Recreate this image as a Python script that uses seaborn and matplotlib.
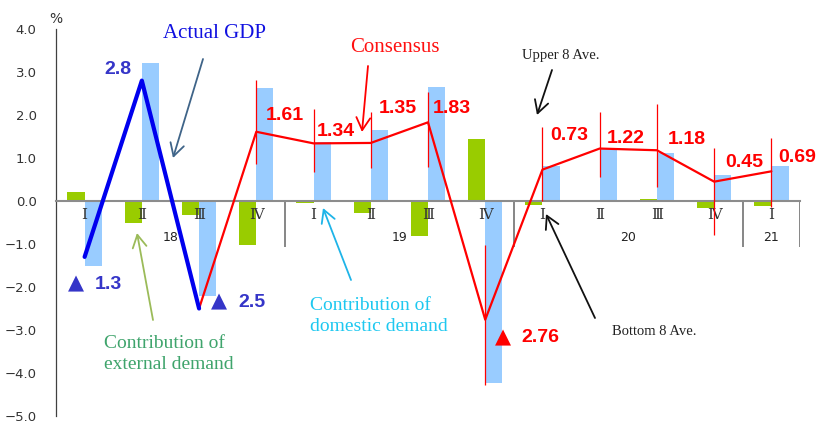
import numpy as np
import pandas as pd
import matplotlib
matplotlib.use("Agg")
import matplotlib.pyplot as plt
import seaborn as sns

# ---------------- data ----------------
quarters = ["18Q1", "18Q2", "18Q3", "18Q4", "19Q1", "19Q2", "19Q3", "19Q4",
            "20Q1", "20Q2", "20Q3", "20Q4", "21Q1"]
roman = ["Ⅰ", "Ⅱ", "Ⅲ", "Ⅳ", "Ⅰ", "Ⅱ", "Ⅲ", "Ⅳ", "Ⅰ", "Ⅱ", "Ⅲ", "Ⅳ", "Ⅰ"]
years = ["18", "19", "20", "21"]
year_centers = [1.5, 5.5, 9.5, 12.0]
year_bounds = [3.5, 7.5, 11.5, 12.5]

external = [0.20, -0.52, -0.32, -1.03, -0.05, -0.29, -0.81, 1.44,
            -0.10, -0.03, 0.05, -0.16, -0.12]
domestic = [-1.50, 3.20, -2.20, 2.63, 1.37, 1.65, 2.65, -4.23,
            0.81, 1.23, 1.12, 0.60, 0.81]

actual_gdp = [-1.3, 2.8, -2.5]                       # 18Q1..18Q3
consensus = [1.61, 1.34, 1.35, 1.83, -2.76, 0.73, 1.22, 1.18, 0.45, 0.69]  # 18Q4..21Q1
upper8 = [2.81, 2.14, 2.07, 2.53, -1.02, 1.72, 2.07, 2.26, 1.23, 1.47]
bottom8 = [0.86, 0.67, 0.77, 0.79, -4.28, 0.00, 0.56, 0.33, -0.79, -0.14]

y_ticks = [4, 3, 2, 1, 0, -1, -2, -3, -4, -5]

# ---------------- figure ----------------
sns.set_style("white")
W, H = 820, 423
fig = plt.figure(figsize=(W / 100, H / 100), dpi=100)
ax = fig.add_axes([56 / W, 1 - 416 / H, 744 / W, 387 / H])

def fp(x, y):
    return (x / W, 1 - y / H)

df = pd.DataFrame({
    "quarter": quarters * 2,
    "value": external + domestic,
    "series": ["external"] * len(quarters) + ["domestic"] * len(quarters),
})
sns.barplot(data=df, x="quarter", y="value", hue="series",
            hue_order=["external", "domestic"],
            palette={"external": "#99CC00", "domestic": "#99CCFF"},
            saturation=1, width=0.6, dodge=True, errorbar=None,
            linewidth=0, legend=False, ax=ax, zorder=2)

n_act = len(actual_gdp)
idx_act = list(range(n_act))
idx_cons = list(range(n_act, n_act + len(consensus)))

# high/low range (upper 8 / bottom 8 averages)
ax.vlines(idx_cons, bottom8, upper8, color="#FF0000", lw=0.9, zorder=5)

# consensus line (starting from last actual)
sns.lineplot(x=[idx_act[-1]] + idx_cons, y=[actual_gdp[-1]] + consensus,
             color="#FF0000", lw=1.6, sort=False, estimator=None, ax=ax, zorder=6)
# actual GDP
sns.lineplot(x=idx_act, y=actual_gdp, color="#0000EE", lw=3.0,
             sort=False, estimator=None, ax=ax, zorder=7)

ax.set_xlim(-0.5, len(quarters) - 0.5)
ax.set_ylim(-5, 4)
ax.set_xlabel("")
ax.set_ylabel("")

# axes styling
for s in ["top", "right"]:
    ax.spines[s].set_visible(False)
ax.spines["left"].set_color("#404040")
ax.spines["left"].set_linewidth(0.9)
ax.spines["bottom"].set_position(("data", 0))
ax.spines["bottom"].set_color("#8C8C8C")
ax.spines["bottom"].set_linewidth(1.5)
ax.spines["bottom"].set_zorder(3)

ax.set_yticks(y_ticks)
ax.set_yticklabels([f"{t:.1f}".replace("-", "\u2212") for t in y_ticks])
ax.tick_params(axis="y", direction="in", length=4, width=0.9, color="#404040",
               labelsize=9.5, labelcolor="#333333", pad=14)
ax.set_xticks(range(len(quarters)))
ax.set_xticklabels([])
ax.tick_params(axis="x", length=0)

# quarter labels drawn on top of the bars
for i, r in enumerate(roman):
    ax.text(i, -0.33, r, ha="center", va="center", fontsize=11,
            family=["DejaVu Serif", "Noto Sans CJK JP"], color="#333333", zorder=4)

# year group separators and labels
ax.vlines(year_bounds, -1.07, 0, color="#666666", lw=1.1, zorder=3)
for yl, xc in zip(years, year_centers):
    ax.text(xc, -0.86, yl, ha="center", va="center", fontsize=9, color="#222222", zorder=4)

fig.text(*fp(56, 19), "%", ha="center", va="center", fontsize=10, color="#333333")

# ---------------- value labels ----------------
num_font = ["Liberation Sans", "DejaVu Sans"]

def vlabel(i, v, nd, dx, dy, color):
    """dx, dy: pixel offset of the label's left edge / vertical centre."""
    kw = dict(textcoords="offset points", va="center", color=color,
              fontweight="bold", zorder=8)
    if v < 0:
        ax.annotate("▲", (i, v), xytext=(dx * 0.72, (dy + 1) * 0.72), ha="left",
                    fontsize=15, family=["DejaVu Sans"], **kw)
        ax.annotate(f"{abs(v):.{nd}f}", (i, v), xytext=((dx + 27) * 0.72, dy * 0.72),
                    ha="left", fontsize=14, family=num_font, **kw)
    else:
        ax.annotate(f"{v:.{nd}f}", (i, v), xytext=(dx * 0.72, dy * 0.72),
                    ha="left", fontsize=14, family=num_font, **kw)

blue_lab = "#3535C8"
act_offsets = [(-16.6, -28), (-37, 10.6), (12, 6.5)]
for i, v, (dx, dy) in zip(idx_act, actual_gdp, act_offsets):
    vlabel(i, v, 1, dx, dy, blue_lab)

cons_offsets = [(9, 16), (3, 12), (8, 34.5), (5, 14), (9.6, -18.3),
                (7.5, 34.6), (7, 10.5), (11, 11), (10.6, 18.7), (6.4, 14)]
for i, v, (dx, dy) in zip(idx_cons, consensus, cons_offsets):
    vlabel(i, v, 2, dx, dy, "#FF0000")

# ---------------- annotations ----------------
serif = "Liberation Serif"
fig.text(*fp(215, 33), "Actual GDP", color="#1010E0", fontsize=15,
         family=serif, ha="center", va="center")
fig.text(*fp(395, 47), "Consensus", color="#FF1010", fontsize=15,
         family=serif, ha="center", va="center")
fig.text(*fp(561, 56), "Upper 8 Ave.", color="#222222", fontsize=10.5,
         family=serif, ha="center", va="center")
fig.text(*fp(654, 331), "Bottom 8 Ave.", color="#222222", fontsize=10.5,
         family=serif, ha="center", va="center")
fig.text(*fp(104, 354), "Contribution of\nexternal demand", color="#3FA46C",
         fontsize=14, family=serif, ha="left", va="center", linespacing=1.3)
fig.text(*fp(310, 316), "Contribution of\ndomestic demand", color="#1EC8F0",
         fontsize=14, family=serif, ha="left", va="center", linespacing=1.3)

def arrow(tail, head, color, lw=1.3):
    ax.annotate("", xy=fp(*head), xytext=fp(*tail), xycoords="figure fraction",
                textcoords="figure fraction",
                arrowprops=dict(arrowstyle="->,head_length=0.45,head_width=0.25",
                                color=color, lw=lw, mutation_scale=20,
                                shrinkA=0, shrinkB=0), zorder=9)

arrow((203, 59), (173, 158), "#3F6488")
arrow((368, 66), (362, 132), "#FF0000")
arrow((552, 70), (537, 115), "#111111")
arrow((595, 318), (546, 214), "#111111")
arrow((153, 320), (137, 233), "#9BBB59")
arrow((351, 280), (323, 208), "#1EB4E8")

fig.savefig("out.png", dpi=100)
